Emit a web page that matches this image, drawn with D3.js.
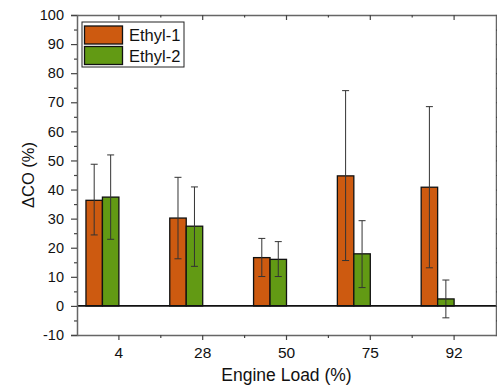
<!DOCTYPE html>
<html>
<head>
<meta charset="utf-8">
<script src="https://cdn.jsdelivr.net/npm/d3@7"></script>
<style>
  body { margin: 0; background: #fff; }
  svg { display: block; font-family: "Liberation Sans", Arial, sans-serif; }
</style>
</head>
<body>
<div id="chart"></div>
<script>
// engine load categories and the two fuel series (ΔCO %, mean with error range)
var loads = ["4", "28", "50", "75", "92"];
var seriesNames = ["Ethyl-1", "Ethyl-2"];
var ethyl1 = [36.3, 30.2, 16.6, 44.7, 40.8];
var ethyl1Hi = [48.7, 44.2, 23.2, 74.0, 68.5];
var ethyl1Lo = [24.4, 16.2, 10.1, 15.6, 13.1];
var ethyl2 = [37.4, 27.4, 16.0, 17.9, 2.4];
var ethyl2Hi = [51.9, 40.9, 22.1, 29.3, 8.9];
var ethyl2Lo = [22.9, 13.6, 10.1, 6.3, -4.1];
var yTicks = [-10, 0, 10, 20, 30, 40, 50, 60, 70, 80, 90, 100];
var colors = ["#cd5a10", "#629a14"];

var W = 497, H = 385;
var m = { top: 15, right: 1, bottom: 50, left: 77 };

var svg = d3.select("#chart").append("svg").attr("width", W).attr("height", H);

var x = d3.scaleBand().domain(loads).range([m.left, W - m.right]).padding(0);
var y = d3.scaleLinear().domain([-10, 100]).range([H - m.bottom, m.top]);
// bars sit left of the tick: green ends at the category centre
var xs = d3.scaleBand().domain(seriesNames).range([-x.bandwidth() * 0.393, 0]);

var rows = [];
loads.forEach(function (l, i) {
  rows.push({ load: l, s: seriesNames[0], v: ethyl1[i], hi: ethyl1Hi[i], lo: ethyl1Lo[i], c: colors[0] });
  rows.push({ load: l, s: seriesNames[1], v: ethyl2[i], hi: ethyl2Hi[i], lo: ethyl2Lo[i], c: colors[1] });
});
function cx(d) { return x(d.load) + x.bandwidth() / 2 + xs(d.s); }

// bars
svg.append("g").selectAll("rect").data(rows).join("rect")
  .attr("x", cx)
  .attr("width", xs.bandwidth())
  .attr("y", function (d) { return y(Math.max(0, d.v)); })
  .attr("height", function (d) { return Math.abs(y(d.v) - y(0)); })
  .attr("fill", function (d) { return d.c; })
  .attr("stroke", "#111").attr("stroke-width", 1.3);

// error bars
var eb = svg.append("g").attr("stroke", "#333").attr("stroke-width", 1);
var cap = 3.5;
rows.forEach(function (d) {
  var ex = cx(d) + xs.bandwidth() / 2;
  eb.append("line").attr("x1", ex).attr("x2", ex).attr("y1", y(d.hi)).attr("y2", y(d.lo));
  eb.append("line").attr("x1", ex - cap).attr("x2", ex + cap).attr("y1", y(d.hi)).attr("y2", y(d.hi));
  eb.append("line").attr("x1", ex - cap).attr("x2", ex + cap).attr("y1", y(d.lo)).attr("y2", y(d.lo));
});

// zero line
svg.append("line").attr("x1", m.left).attr("x2", W - m.right).attr("y1", y(0)).attr("y2", y(0))
  .attr("stroke", "#111").attr("stroke-width", 1.6);

// axes
var minorY = d3.range(-10, 101, 5).filter(function (v) { return v % 10 !== 0; });
var bounds = loads.slice(1).map(function (l) { return x(l); });

function styleAxis(g) {
  g.select(".domain").attr("stroke", "#666").attr("stroke-width", 1.5);
  g.selectAll(".tick line").attr("stroke", "#444").attr("stroke-width", 1.2);
  g.selectAll(".tick text").attr("fill", "#111").style("font-size", "14.5px");
}

var gl = svg.append("g").attr("transform", "translate(" + m.left + ",0)")
  .call(d3.axisLeft(y).tickValues(yTicks).tickSize(6).tickPadding(7).tickFormat(function (d) { return String(d); }));
styleAxis(gl);
svg.append("g").attr("transform", "translate(" + m.left + ",0)")
  .call(d3.axisLeft(y).tickValues(minorY).tickSize(3).tickFormat(""))
  .call(function (g) { g.select(".domain").remove(); g.selectAll("line").attr("stroke", "#444").attr("stroke-width", 1.2); });

var gr = svg.append("g").attr("transform", "translate(" + (W - m.right) + ",0)")
  .call(d3.axisLeft(y).tickValues(yTicks).tickSize(-5).tickFormat(""));
styleAxis(gr);
svg.append("g").attr("transform", "translate(" + (W - m.right) + ",0)")
  .call(d3.axisLeft(y).tickValues(minorY).tickSize(-2.5).tickFormat(""))
  .call(function (g) { g.select(".domain").remove(); g.selectAll("line").attr("stroke", "#444").attr("stroke-width", 1.2); });

var gb = svg.append("g").attr("transform", "translate(0," + y(-10) + ")")
  .call(d3.axisBottom(x).tickSize(5).tickPadding(7).tickSizeOuter(0));
styleAxis(gb);
gb.selectAll(".tick text").style("font-size", "15.5px");
svg.append("g").selectAll("line").data(bounds).join("line")
  .attr("x1", function (d) { return d; }).attr("x2", function (d) { return d; })
  .attr("y1", y(-10)).attr("y2", y(-10) + 3).attr("stroke", "#444").attr("stroke-width", 1.2);

var gt = svg.append("g").attr("transform", "translate(0," + y(100) + ")")
  .call(d3.axisTop(x).tickSize(-5).tickFormat("").tickSizeOuter(0));
styleAxis(gt);
svg.append("g").selectAll("line").data(bounds).join("line")
  .attr("x1", function (d) { return d; }).attr("x2", function (d) { return d; })
  .attr("y1", y(100)).attr("y2", y(100) + 2.5).attr("stroke", "#444").attr("stroke-width", 1.2);

// axis titles
svg.append("text").attr("x", (m.left + W - m.right) / 2).attr("y", 381)
  .attr("text-anchor", "middle").style("font-size", "17.5px").attr("fill", "#111")
  .text("Engine Load (%)");
svg.append("text").attr("transform", "translate(34," + y(45) + ") rotate(-90)")
  .attr("text-anchor", "middle").style("font-size", "16.5px").attr("fill", "#111")
  .text("ΔCO (%)");

// legend
var lg = svg.append("g").attr("transform", "translate(82,22)");
lg.append("rect").attr("width", 102).attr("height", 45).attr("fill", "#fff")
  .attr("stroke", "#222").attr("stroke-width", 1);
seriesNames.forEach(function (s, i) {
  lg.append("rect").attr("x", 2.5).attr("y", 4 + i * 20.5).attr("width", 38).attr("height", 18)
    .attr("fill", colors[i]).attr("stroke", "#111").attr("stroke-width", 1.3);
  lg.append("text").attr("x", 47).attr("y", 19 + i * 20.5).style("font-size", "16.5px").attr("fill", "#111").text(s);
});
</script>
</body>
</html>
